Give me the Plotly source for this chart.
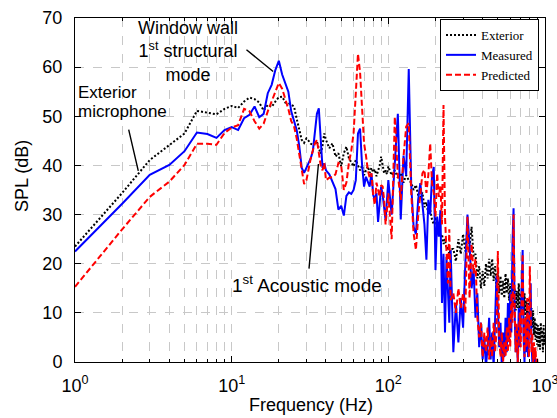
import math
import plotly.graph_objects as go

# ---------------- data ----------------
freq_hz = [1, 2, 3, 4, 5, 6, 7, 8, 9, 10,
           11, 12, 13, 14, 15, 16, 17, 18, 19, 20, 21, 22, 23, 24, 25, 26, 27, 28, 29, 30,
           31, 32, 33, 34, 35, 36, 37, 38, 39, 40,
           42, 44, 46, 48, 50, 52, 54, 56, 58, 60, 62, 64, 66, 68, 70, 72, 74, 76, 78, 80,
           82, 84, 86, 88, 90, 92, 94, 96, 98, 100,
           105, 110, 115, 120, 125, 130, 135, 140, 145, 150, 155, 160, 165, 170, 175, 180,
           185, 190, 195, 200, 205, 210, 215, 220, 225, 230, 235, 240, 245, 250,
           260, 270, 280, 290, 300, 310, 320, 330, 340, 350, 360, 370, 380, 390, 400, 410,
           420, 430, 440, 450, 460, 470, 480, 490, 500, 510, 520, 530, 540, 550, 560, 570,
           580, 590, 600, 610, 620, 630, 640, 650, 660, 670, 680, 690, 700, 710, 720, 730,
           740, 750, 760, 770, 780, 790, 800, 810, 820, 830, 840, 850, 860, 870, 880, 890,
           900, 910, 920, 930, 940, 950, 960, 970, 980, 990, 1000]

exterior_db = [23.5, 34.4, 41.1, 44.2, 46.5, 51.1, 50.8, 50.4, 51.5, 52.1,
               51.7, 53.0, 53.8, 53.5, 52.8, 51.2, 52.3, 51.9, 53.0, 53.9, 54.0, 52.8, 52.7, 52.3, 52.0,
               49.5, 47.5, 45.2, 44.6, 45.5, 45.0, 44.4, 44.2, 44.5, 44.8, 43.5, 42.4, 44.0, 46.5, 45.2,
               43.5, 44.5, 41.8, 42.5, 39.8, 42.5, 43.8, 41.5, 40.5, 39.8, 41.1, 40.2, 39.0, 40.0, 38.0,
               39.0, 39.8, 38.5, 39.5, 38.6, 39.2, 37.8, 38.7, 40.0, 41.8, 39.5, 38.4, 39.0, 38.2, 39.8,
               38, 39, 37.5, 38.5, 36.5, 38, 37, 36.5, 35, 36, 34, 33.5, 34.5, 31.5, 32.5,
               30, 31, 29, 28, 29.5, 27, 27.5, 25.5, 26, 24, 25, 23, 23.5, 22, 23,
               23, 20.5, 25, 22, 26, 22.5, 27, 23.5, 27.5, 21.5,
               22, 17, 19.5, 15, 18.5, 15.5, 20, 17, 21, 17.5,
               21, 16.5, 19.5, 15, 18.5, 14, 17.5, 13.5, 16.5, 13,
               18, 14, 17, 12.5, 16, 13, 15.5, 11, 15, 10.5,
               14.5, 11, 16, 10, 14, 10.5, 13, 9.5, 14, 9,
               12.5, 9, 13, 8.5, 12, 8, 11, 7, 10.5, 5.5,
               9, 4.5, 8, 3.5, 7.5, 3, 7, 2.5, 8, 4,
               6.5, 2, 7.5, 3.5, 6]

measured_db = [22.5, 32.2, 38.1, 40.1, 42.9, 46.7, 46.4, 45.6, 47.2, 47.8,
               47.2, 49.6, 50.3, 52.0, 49.8, 50.5, 54.7, 56.4, 59.4, 61.3, 58.5, 56.5, 55.0, 51.0, 49.0,
               47.2, 44.0, 39.5, 38.5, 39.5, 40.3, 41.5, 43.0, 47.0, 50.5, 51.6, 46.0, 39.5, 40.4, 39.0,
               38.2, 36.5, 35.2, 31.0, 31.8, 29.8, 33.8, 34.5, 34.2, 35.0, 37.0, 46.5, 47.5, 40.0, 35.7,
               37.7, 36.5, 35.7, 38.4, 34.0, 33.0, 34.4, 28.5, 32.0, 35.7, 34.0, 31.0, 28.9, 33.0, 37.0,
               30, 41, 50.5, 29, 42, 38, 59.6, 36, 27.5, 26, 33, 36.4, 32, 28, 20.8,
               33, 30, 37.7, 39.7, 18.7, 29.6, 25.5, 30.9, 12, 22, 6, 21.4, 14.6, 8, 22.8,
               2, 12, 4, 13, 7, 20, 30, 24, 15, 19,
               9, 14, 3, 8, 0.5, 5, -1, 3, 9, 0.5,
               6, -1, 10, 17.5, 11, 3, 8, -1, 6, 1,
               9, 2, 12, 4, 14, 6, 24, 31.3, 10, 2,
               7, 0, 11, 3, 8, 16, 22.8, 5, 0, 8,
               2, 10, 1, 6, 12, 16, 4, 0, 3, -2,
               2, -3, -1, -5, -6, -8, -8, -8, -8, -8,
               -8, -8, -8, -8, -8]

predicted_db = [15.3, 27.0, 33.6, 36.7, 40.1, 44.4, 44.4, 44.2, 46.6, 47.7,
                48.2, 51.5, 51.0, 49.0, 47.5, 48.5, 51.0, 53.0, 55.0, 56.8, 55.6, 53.5, 51.5, 49.0, 48.0,
                45.5, 42.4, 39.0, 36.2, 37.0, 39.5, 41.5, 43.1, 44.5, 45.2, 42.0, 40.0, 39.0, 40.5, 37.0,
                37.5, 37.6, 38.2, 40.5, 40.0, 35.0, 36.5, 40.5, 43.0, 46.5, 55.0, 62.7, 59.0, 50.0, 44.5,
                42.0, 39.0, 37.5, 38.4, 34.0, 32.0, 36.5, 35.0, 33.6, 36.0, 35.7, 33.0, 28.0, 31.0, 34.3,
                25, 49.9, 38, 33, 41.8, 47.9, 48.6, 34.4, 26.2, 22.8, 29.6, 35, 38.4, 39.1, 34.4,
                38, 44.5, 36.4, 34.4, 29.6, 38.4, 33.6, 36, 28, 52.3, 29.6, 21.4, 16, 27, 12.6,
                14, 10, 15, 11, 14, 10, 29.6, 13, 24, 18,
                21, 9, 5, 8, 1, 6, 2, 7, 0.5, 5,
                1, 8, 2, 6, 22.6, 5, 1, 6, 0, 4,
                1, 7, 2, 9, 3, 14, 8, 30, 12, 2,
                8, 0, 5, 10, 3, 12, 22, 6, 1, 9,
                3, 13, 5, 1, 19.5, 8, 2, 6, 0, 4,
                0.5, 3, -1, 1, -3, -8, -8, -8, -8, -8,
                -8, -8, -8, -8, -8]

series_names = ["Exterior", "Measured", "Predicted"]
x_tick_values = [1, 10, 100, 1000]
x_tick_labels = ["10<sup>0</sup>", "10<sup>1</sup>", "10<sup>2</sup>", "10<sup>3</sup>"]
y_tick_values = [0, 10, 20, 30, 40, 50, 60, 70]

# ---------------- layout helpers ----------------
W, H = 557, 418
L, R, T, B = 75, 545, 18, 362


def px(xp):
    return (xp - L) / (R - L)


def py(yp):
    return (B - yp) / (B - T)


SANS = "Arial, Liberation Sans, sans-serif"
SERIF = "Times New Roman, Liberation Serif, serif"
GRID = "#c8c8c8"

fig = go.Figure()
fig.add_trace(go.Scatter(x=freq_hz, y=exterior_db, name=series_names[0], mode="lines",
                         line=dict(color="black", width=2, dash="2px,2px")))
fig.add_trace(go.Scatter(x=freq_hz, y=measured_db, name=series_names[1], mode="lines",
                         line=dict(color="#0000ff", width=2)))
fig.add_trace(go.Scatter(x=freq_hz, y=predicted_db, name=series_names[2], mode="lines",
                         line=dict(color="#ff0000", width=2, dash="6px,3px")))

minor_vals = [m * 10 ** d for d in range(3) for m in range(2, 10)]

fig.update_xaxes(type="log", range=[-0.00001, 3.00001], tickmode="array", tickvals=x_tick_values,
                 ticktext=x_tick_labels, ticks="inside", ticklen=6, tickcolor="black",
                 ticklabeloverflow="allow", automargin=False,
                 showline=True, linecolor="black", linewidth=1, mirror="ticks",
                 showgrid=True, gridcolor=GRID, griddash="dash", gridwidth=1,
                 tickfont=dict(family=SANS, size=18, color="black"), ticklabelstandoff=7,
                 minor=dict(tickmode="array", tickvals=minor_vals, ticks="inside", ticklen=3,
                            tickcolor="black", showgrid=True, gridcolor=GRID,
                            griddash="dash", gridwidth=1),
                 zeroline=False)
fig.update_yaxes(range=[0, 70], tickmode="array", tickvals=y_tick_values,
                 ticks="inside", ticklen=6, tickcolor="black", automargin=False,
                 showline=True, linecolor="black", linewidth=1, mirror="ticks",
                 showgrid=True, gridcolor=GRID, griddash="dash", gridwidth=1,
                 tickfont=dict(family=SANS, size=18, color="black"), ticklabelstandoff=8,
                 zeroline=False)

ann = []
# axis titles
ann.append(dict(text="Frequency (Hz)", xref="paper", yref="paper", x=px(311), y=py(405),
                xanchor="center", yanchor="middle",
                showarrow=False, font=dict(family=SANS, size=18, color="black")))
ann.append(dict(text="SPL (dB)", xref="paper", yref="paper", x=px(22), y=py(176),
                xanchor="center", yanchor="middle",
                showarrow=False, textangle=-90, font=dict(family=SANS, size=18, color="black")))
# annotation texts
for txt, xp, yp, size, anchor in [
        ("Window wall<br>1<sup>st</sup> structural<br>mode", 188, 52, 18, "center"),
        ("Exterior", 76, 92, 17, "left"),
        ("microphone", 76, 111, 17, "left"),
        ("1<sup>st</sup> Acoustic mode", 307, 284, 19, "center")]:
    ann.append(dict(text=txt, xref="paper", yref="paper", x=px(xp), y=py(yp),
                    xanchor=anchor, yanchor="middle", showarrow=False,
                    font=dict(family=SANS, size=size, color="black")))
# pointer lines (tip -> tail), in log-x data units
for tip_f, tip_v, tail_f, tail_v in [(18.4, 59.1, 12.16, 63.8),
                                     (2.535, 38.9, 2.19, 47.6),
                                     (35.8, 40.3, 31.1, 18.7)]:
    ann.append(dict(text="", x=math.log10(tip_f), y=tip_v, xref="x", yref="y",
                    ax=math.log10(tail_f), ay=tail_v, axref="x", ayref="y",
                    showarrow=True, arrowhead=0, arrowwidth=1.4, arrowcolor="black",
                    standoff=0, startstandoff=0))

fig.update_layout(
    width=W, height=H,
    margin=dict(l=L, r=W - R, t=T, b=H - B, pad=0, autoexpand=False),
    paper_bgcolor="white", plot_bgcolor="white",
    showlegend=True,
    legend=dict(x=px(539), y=py(19), xanchor="right", yanchor="top",
                bgcolor="white", bordercolor="black", borderwidth=1,
                font=dict(family=SERIF, size=13, color="black"),
                tracegroupgap=0, itemwidth=30),
    annotations=ann,
)

fig.write_html("out.html")
